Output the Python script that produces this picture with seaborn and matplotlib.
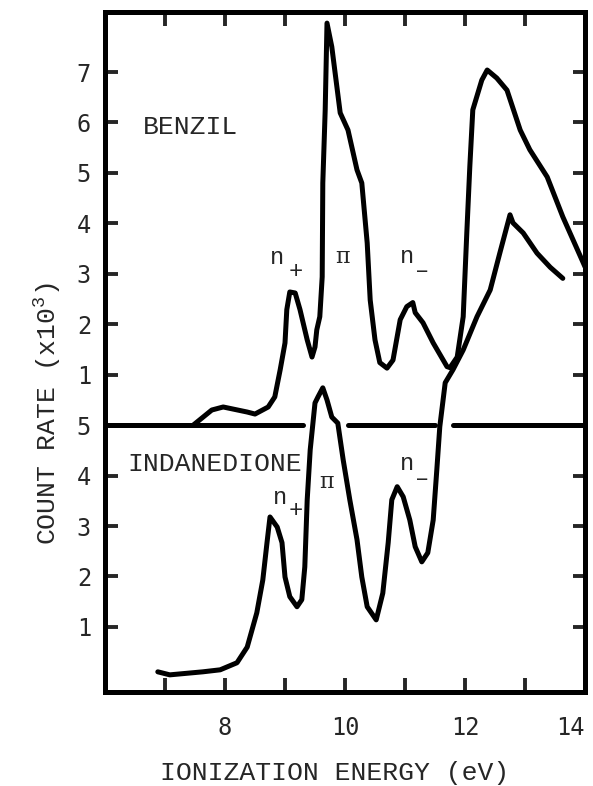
import numpy as np
import pandas as pd
import matplotlib
matplotlib.use("Agg")
import matplotlib.pyplot as plt
import seaborn as sns

# ---- data ----
benzil_ev = [7.47, 7.78, 7.97, 8.37, 8.50, 8.72, 8.83, 8.92, 9.00, 9.03, 9.08, 9.17,
             9.25, 9.37, 9.45, 9.50, 9.53, 9.58, 9.62, 9.63, 9.67, 9.70, 9.78, 9.92,
             10.05, 10.20, 10.28, 10.37, 10.42, 10.50, 10.58, 10.70, 10.80, 10.92,
             11.03, 11.13, 11.17, 11.30, 11.47, 11.70, 11.75, 11.87, 11.97, 12.03,
             12.08, 12.13, 12.28, 12.37, 12.53, 12.70, 12.92, 13.08, 13.37, 13.63, 14.00]
benzil_counts = [0.0, 0.30, 0.36, 0.26, 0.22, 0.36, 0.56, 1.10, 1.63, 2.29, 2.64, 2.62,
                 2.29, 1.69, 1.35, 1.55, 1.89, 2.15, 2.94, 4.80, 6.25, 7.97, 7.50, 6.19,
                 5.85, 5.06, 4.80, 3.61, 2.48, 1.69, 1.24, 1.13, 1.29, 2.09,
                 2.35, 2.43, 2.23, 2.03, 1.63, 1.16, 1.14, 1.35, 2.15, 3.81,
                 5.12, 6.25, 6.84, 7.04, 6.88, 6.64, 5.85, 5.46, 4.92, 4.13, 3.14]

indan_ev = [6.88, 7.08, 7.63, 7.92, 8.20, 8.37, 8.53, 8.63, 8.70, 8.75, 8.87, 8.95,
            9.00, 9.08, 9.20, 9.28, 9.33, 9.37, 9.42, 9.50, 9.55, 9.63, 9.70, 9.78,
            9.88, 9.97, 10.08, 10.20, 10.28, 10.37, 10.52, 10.63, 10.72, 10.78,
            10.87, 10.97, 11.08, 11.17, 11.28, 11.38, 11.47, 11.53, 11.58, 11.67,
            11.80, 11.97, 12.20, 12.42, 12.58, 12.75, 12.80, 12.97, 13.20, 13.42, 13.63]
indan_counts = [0.11, 0.05, 0.11, 0.15, 0.29, 0.60, 1.28, 1.93, 2.67, 3.18, 2.98, 2.67,
                1.99, 1.60, 1.40, 1.54, 2.19, 3.52, 4.51, 5.44, 5.56, 5.74, 5.50, 5.16,
                5.04, 4.31, 3.52, 2.73, 1.99, 1.40, 1.14, 1.67, 2.67, 3.52,
                3.78, 3.58, 3.12, 2.59, 2.29, 2.47, 3.12, 4.11, 4.97, 5.84,
                6.10, 6.49, 7.15, 7.68, 8.41, 9.17, 9.01, 8.81, 8.41, 8.13, 7.91]

benzil_offset = 5.0
x_tick_pos = [7, 8, 9, 10, 11, 12, 13, 14]
x_tick_labels = ["", "8", "", "10", "", "12", "", "14"]
y_tick_pos = [1, 2, 3, 4, 5, 6, 7, 8, 9, 10, 11, 12]
y_tick_labels = ["1", "2", "3", "4", "5", "1", "2", "3", "4", "5", "6", "7"]
divider_segments = [(6.0, 9.30), (10.05, 11.50), (11.80, 14.0)]

sns.set_style("ticks")
plt.rcParams["font.family"] = ["Liberation Mono", "DejaVu Sans"]
plt.rcParams["mathtext.fontset"] = "custom"
plt.rcParams["mathtext.rm"] = "Liberation Mono"

df_b = pd.DataFrame({"ev": benzil_ev, "c": np.array(benzil_counts) + benzil_offset})
df_i = pd.DataFrame({"ev": indan_ev, "c": indan_counts})

fig = plt.figure(figsize=(5.93, 7.86), dpi=100)
ax = fig.add_axes([105/593, 1-692/786, 480/593, 680/786])

lw = 3.6
sns.lineplot(data=df_b, x="ev", y="c", ax=ax, color="black", lw=lw,
             sort=False, estimator=None, solid_capstyle="round", solid_joinstyle="round")
sns.lineplot(data=df_i, x="ev", y="c", ax=ax, color="black", lw=lw,
             sort=False, estimator=None, solid_capstyle="round", solid_joinstyle="round")
for a, b in divider_segments:
    ax.plot([a, b], [5, 5], color="black", lw=lw, solid_capstyle="round")

ax.set_xlim(6, 14)
ax.set_ylim(-0.29, 13.19)
for s in ax.spines.values():
    s.set_linewidth(3.6)
    s.set_color("black")
    s.set_visible(True)

ax.set_xticks(x_tick_pos)
ax.set_xticklabels(x_tick_labels, fontfamily="DejaVu Sans Mono", fontsize=17)
ax.get_xticklabels()[-1].set_horizontalalignment("right")
ax.set_yticks(y_tick_pos)
ax.set_yticklabels(y_tick_labels, fontfamily="DejaVu Sans Mono", fontsize=17)
ax.tick_params(axis="x", direction="in", length=10, width=2.8, top=True, bottom=True, pad=17)
ax.tick_params(axis="y", direction="in", length=9, width=2.8, left=True, right=True, pad=10)
ax.set_xlabel("")
ax.set_ylabel("")

fs = 19
ax.text(6.63, 10.91, "BENZIL", fontsize=fs, va="center", ha="left")
ax.text(6.38, 4.23, "INDANEDIONE", fontsize=fs, va="center", ha="left")

# peak labels (benzil)
ax.text(8.87, 8.32, "n", fontsize=17, ha="center", va="center")
ax.text(9.17, 8.04, "+", fontsize=17, ha="center", va="center")
ax.text(9.95, 8.34, "\u03c0", fontsize=16, ha="center", va="center", fontfamily="DejaVu Serif")
ax.text(11.03, 8.35, "n", fontsize=17, ha="center", va="center")
ax.text(11.28, 8.06, "\u2013", fontsize=17, ha="center", va="center")
# peak labels (indanedione)
ax.text(8.92, 3.56, "n", fontsize=17, ha="center", va="center")
ax.text(9.18, 3.30, "+", fontsize=17, ha="center", va="center")
ax.text(9.70, 3.88, "\u03c0", fontsize=16, ha="center", va="center", fontfamily="DejaVu Serif")
ax.text(11.03, 4.23, "n", fontsize=17, ha="center", va="center")
ax.text(11.28, 3.95, "\u2013", fontsize=17, ha="center", va="center")

fig.text(335/593, 1-773/786, "IONIZATION ENERGY (eV)", fontsize=fs, ha="center", va="center")
fig.text(47/593, 1-414/786, r"COUNT RATE (x10$^{\mathrm{3}}$)", fontsize=fs,
         ha="center", va="center", rotation=90)

fig.savefig("out.png", dpi=100, facecolor="white")
